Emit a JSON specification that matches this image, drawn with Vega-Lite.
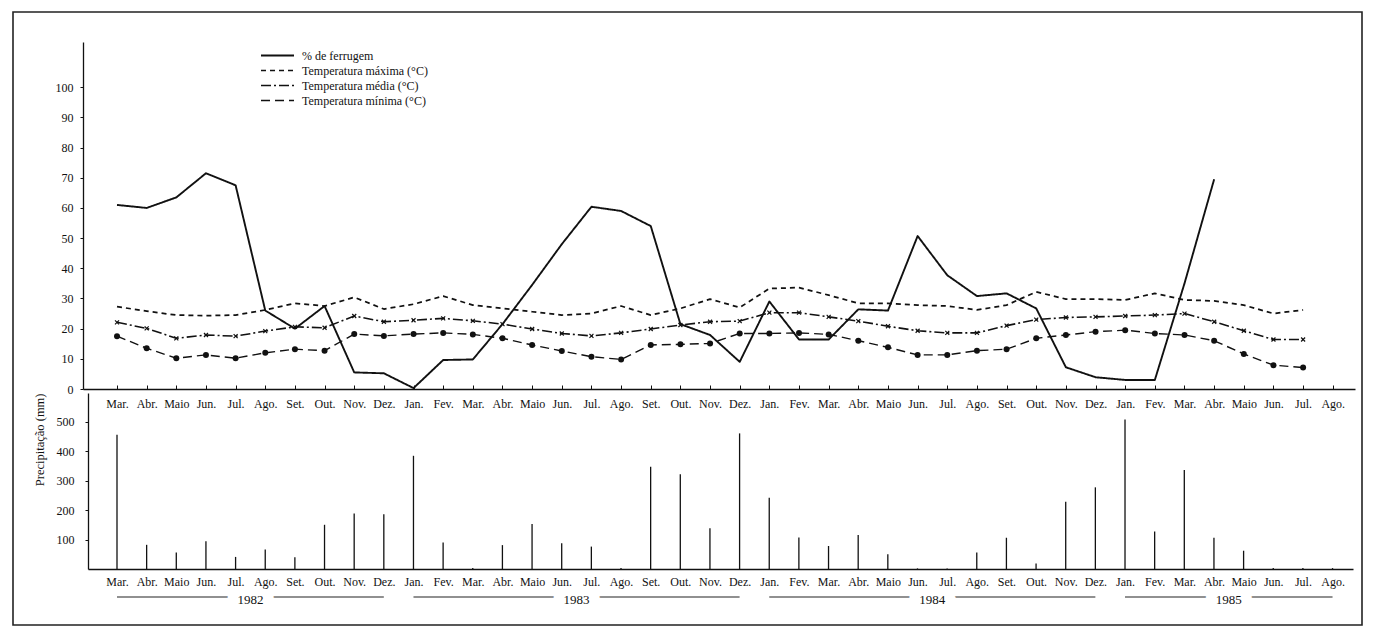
{
  "$schema": "https://vega.github.io/schema/vega-lite/v6.json",
  "width": 1349,
  "height": 613,
  "autosize": {"type": "none"},
  "padding": {"left": 13, "top": 12, "right": 18, "bottom": 3},
  "background": "white",
  "config": {
    "view": {"stroke": "#222", "strokeWidth": 1.6},
    "font": "Liberation Serif",
    "axis": {
      "labelFont": "Liberation Serif",
      "labelFontSize": 12,
      "labelColor": "#111",
      "domainColor": "#111",
      "domainWidth": 1.3,
      "tickColor": "#111",
      "grid": false,
      "titleFont": "Liberation Serif",
      "titleFontWeight": "normal",
      "titleFontSize": 12.5,
      "titleColor": "#111"
    },
    "legend": {
      "orient": "none",
      "legendX": 258,
      "legendY": 37,
      "padding": 0,
      "symbolType": "M-3,0L3,0",
      "symbolSize": 121,
      "symbolStrokeWidth": 1.5,
      "symbolStrokeColor": "#111",
      "labelFont": "Liberation Serif",
      "labelFontSize": 12,
      "labelColor": "#111",
      "labelOffset": 18,
      "rowPadding": 2
    }
  },
  "datasets": {
    "clima": [
      {"i": 0, "ferrugem": 61, "tmax": 27.3, "tmed": 22.1, "tmin": 17.5},
      {"i": 1, "ferrugem": 60, "tmax": 25.8, "tmed": 20.1, "tmin": 13.5},
      {"i": 2, "ferrugem": 63.5, "tmax": 24.5, "tmed": 16.8, "tmin": 10.2},
      {"i": 3, "ferrugem": 71.5, "tmax": 24.3, "tmed": 17.9, "tmin": 11.3},
      {"i": 4, "ferrugem": 67.5, "tmax": 24.5, "tmed": 17.5, "tmin": 10.2},
      {"i": 5, "ferrugem": 26, "tmax": 26.2, "tmed": 19.2, "tmin": 12},
      {"i": 6, "ferrugem": 20, "tmax": 28.4, "tmed": 20.6, "tmin": 13.2},
      {"i": 7, "ferrugem": 27.5, "tmax": 27.5, "tmed": 20.3, "tmin": 12.7},
      {"i": 8, "ferrugem": 5.5, "tmax": 30.4, "tmed": 24.2, "tmin": 18.2},
      {"i": 9, "ferrugem": 5.2, "tmax": 26.5, "tmed": 22.3, "tmin": 17.6},
      {"i": 10, "ferrugem": 0.3, "tmax": 28.1, "tmed": 22.8, "tmin": 18.2},
      {"i": 11, "ferrugem": 9.6, "tmax": 30.8, "tmed": 23.4, "tmin": 18.6},
      {"i": 12, "ferrugem": 9.8, "tmax": 27.8, "tmed": 22.6, "tmin": 18.1},
      {"i": 13, "ferrugem": 21.5, "tmax": 26.7, "tmed": 21.5, "tmin": 16.8},
      {"i": 14, "ferrugem": 34.5, "tmax": 25.6, "tmed": 19.9, "tmin": 14.6},
      {"i": 15, "ferrugem": 48, "tmax": 24.5, "tmed": 18.4, "tmin": 12.6},
      {"i": 16, "ferrugem": 60.4, "tmax": 25, "tmed": 17.6, "tmin": 10.7},
      {"i": 17, "ferrugem": 59, "tmax": 27.5, "tmed": 18.6, "tmin": 9.8},
      {"i": 18, "ferrugem": 54, "tmax": 24.5, "tmed": 19.9, "tmin": 14.6},
      {"i": 19, "ferrugem": 21.5, "tmax": 26.7, "tmed": 21.2, "tmin": 14.8},
      {"i": 20, "ferrugem": 17.9, "tmax": 29.8, "tmed": 22.3, "tmin": 15.1},
      {"i": 21, "ferrugem": 9, "tmax": 27, "tmed": 22.5, "tmin": 18.4},
      {"i": 22, "ferrugem": 29, "tmax": 33.3, "tmed": 25.3, "tmin": 18.4},
      {"i": 23, "ferrugem": 16.4, "tmax": 33.6, "tmed": 25.3, "tmin": 18.6},
      {"i": 24, "ferrugem": 16.4, "tmax": 31.1, "tmed": 23.9, "tmin": 18.1},
      {"i": 25, "ferrugem": 26.4, "tmax": 28.4, "tmed": 22.5, "tmin": 16},
      {"i": 26, "ferrugem": 26, "tmax": 28.4, "tmed": 20.8, "tmin": 13.8},
      {"i": 27, "ferrugem": 50.7, "tmax": 27.8, "tmed": 19.3, "tmin": 11.3},
      {"i": 28, "ferrugem": 37.7, "tmax": 27.5, "tmed": 18.6, "tmin": 11.3},
      {"i": 29, "ferrugem": 30.8, "tmax": 26.2, "tmed": 18.6, "tmin": 12.7},
      {"i": 30, "ferrugem": 31.7, "tmax": 27.8, "tmed": 21, "tmin": 13.2},
      {"i": 31, "ferrugem": 26.7, "tmax": 32.2, "tmed": 23, "tmin": 16.8},
      {"i": 32, "ferrugem": 7.2, "tmax": 29.8, "tmed": 23.7, "tmin": 17.9},
      {"i": 33, "ferrugem": 3.9, "tmax": 29.8, "tmed": 23.9, "tmin": 19},
      {"i": 34, "ferrugem": 3, "tmax": 29.5, "tmed": 24.2, "tmin": 19.5},
      {"i": 35, "ferrugem": 3, "tmax": 31.7, "tmed": 24.5, "tmin": 18.4},
      {"i": 36, "ferrugem": 35, "tmax": 29.5, "tmed": 25, "tmin": 17.9},
      {"i": 37, "ferrugem": 69.5, "tmax": 29.2, "tmed": 22.3, "tmin": 16},
      {"i": 38, "ferrugem": null, "tmax": 27.8, "tmed": 19.3, "tmin": 11.6},
      {"i": 39, "ferrugem": null, "tmax": 25, "tmed": 16.4, "tmin": 7.9},
      {"i": 40, "ferrugem": null, "tmax": 26.2, "tmed": 16.4, "tmin": 7.1}
    ],
    "chuva": [
      {"i": 0, "mm": 455}, {"i": 1, "mm": 82}, {"i": 2, "mm": 56}, {"i": 3, "mm": 94},
      {"i": 4, "mm": 41}, {"i": 5, "mm": 66}, {"i": 6, "mm": 40}, {"i": 7, "mm": 150},
      {"i": 8, "mm": 188}, {"i": 9, "mm": 186}, {"i": 10, "mm": 384}, {"i": 11, "mm": 90},
      {"i": 12, "mm": 3}, {"i": 13, "mm": 81}, {"i": 14, "mm": 153}, {"i": 15, "mm": 87},
      {"i": 16, "mm": 76}, {"i": 17, "mm": 3}, {"i": 18, "mm": 347}, {"i": 19, "mm": 321},
      {"i": 20, "mm": 138}, {"i": 21, "mm": 460}, {"i": 22, "mm": 242}, {"i": 23, "mm": 107},
      {"i": 24, "mm": 78}, {"i": 25, "mm": 115}, {"i": 26, "mm": 50}, {"i": 27, "mm": 2},
      {"i": 28, "mm": 2}, {"i": 29, "mm": 56}, {"i": 30, "mm": 106}, {"i": 31, "mm": 19},
      {"i": 32, "mm": 228}, {"i": 33, "mm": 277}, {"i": 34, "mm": 507}, {"i": 35, "mm": 127},
      {"i": 36, "mm": 336}, {"i": 37, "mm": 106}, {"i": 38, "mm": 62}, {"i": 39, "mm": 3},
      {"i": 40, "mm": 3}, {"i": 41, "mm": 3}
    ],
    "anos": [
      {"ano": "1982", "inicio": 0, "fim": 9},
      {"ano": "1983", "inicio": 10, "fim": 21},
      {"ano": "1984", "inicio": 22, "fim": 33},
      {"ano": "1985", "inicio": 34, "fim": 41}
    ]
  },
  "layer": [
    {
      "data": {"name": "clima"},
      "transform": [
        {"fold": ["ferrugem", "tmax", "tmed", "tmin"], "as": ["serie", "valor"]}
      ],
      "encoding": {
        "x": {
          "field": "i",
          "type": "quantitative",
          "scale": {"domain": [-1.147, 41.75], "range": [70, 1342], "nice": false, "zero": false},
          "axis": {
            "orient": "bottom",
            "offset": -236,
            "title": null,
            "values": [0,1,2,3,4,5,6,7,8,9,10,11,12,13,14,15,16,17,18,19,20,21,22,23,24,25,26,27,28,29,30,31,32,33,34,35,36,37,38,39,40,41],
            "labelExpr": "['Mar.','Abr.','Maio','Jun.','Jul.','Ago.','Set.','Out.','Nov.','Dez.','Jan.','Fev.'][datum.value % 12]",
            "tickSize": -4,
            "labelPadding": 13,
            "labelFlush": false,
            "labelOverlap": false
          }
        },
        "y": {
          "field": "valor",
          "type": "quantitative",
          "scale": {"domain": [0, 115], "range": [377, 30], "nice": false, "zero": false},
          "axis": {
            "orient": "left",
            "offset": -70,
            "title": null,
            "values": [0, 10, 20, 30, 40, 50, 60, 70, 80, 90, 100],
            "tickSize": 3,
            "labelPadding": 7
          }
        }
      },
      "layer": [
        {
          "mark": {"type": "line", "color": "#111", "strokeJoin": "round"},
          "encoding": {
            "strokeDash": {
              "field": "serie",
              "type": "nominal",
              "scale": {
                "domain": ["ferrugem", "tmax", "tmed", "tmin"],
                "range": [[1, 0], [5, 4], [10, 3, 2, 3], [9, 5]]
              },
              "legend": {
                "title": null,
                "labelExpr": "datum.label === 'ferrugem' ? '% de ferrugem' : datum.label === 'tmax' ? 'Temperatura máxima (°C)' : datum.label === 'tmed' ? 'Temperatura média (°C)' : 'Temperatura mínima (°C)'"
              }
            },
            "strokeWidth": {
              "field": "serie",
              "type": "nominal",
              "scale": {"domain": ["ferrugem", "tmax", "tmed", "tmin"], "range": [1.9, 1.4, 1.5, 1.5]},
              "legend": null
            }
          }
        },
        {
          "transform": [{"filter": "datum.serie === 'tmin'"}],
          "mark": {"type": "point", "filled": true, "size": 36, "color": "#111", "opacity": 1}
        },
        {
          "transform": [{"filter": "datum.serie === 'tmed'"}],
          "mark": {"type": "point", "shape": "M-1,-1L1,1M1,-1L-1,1", "size": 16, "filled": false, "strokeWidth": 1.2, "color": "#111", "opacity": 1}
        }
      ]
    },
    {
      "data": {"name": "chuva"},
      "mark": {"type": "rule", "color": "#111", "strokeWidth": 1.3},
      "encoding": {
        "x": {
          "field": "i",
          "type": "quantitative",
          "scale": {"domain": [-0.978, 41.69], "range": [75, 1340], "nice": false, "zero": false},
          "axis": {
            "orient": "bottom",
            "offset": -56,
            "title": null,
            "zindex": 1,
            "values": [0,1,2,3,4,5,6,7,8,9,10,11,12,13,14,15,16,17,18,19,20,21,22,23,24,25,26,27,28,29,30,31,32,33,34,35,36,37,38,39,40,41],
            "labelExpr": "['Mar.','Abr.','Maio','Jun.','Jul.','Ago.','Set.','Out.','Nov.','Dez.','Jan.','Fev.'][datum.value % 12]",
            "ticks": false,
            "labelPadding": 7,
            "labelFlush": false,
            "labelOverlap": false
          }
        },
        "y": {
          "field": "mm",
          "type": "quantitative",
          "scale": {"domain": [0, 597], "range": [557, 381], "nice": false, "zero": false},
          "axis": {
            "orient": "left",
            "offset": -75,
            "title": "Precipitação (mm)",
            "titleAnchor": "end",
            "titlePadding": 10,
            "values": [100, 200, 300, 400, 500],
            "tickSize": 3,
            "labelPadding": 11
          }
        },
        "y2": {"datum": 0}
      }
    },
    {
      "data": {"name": "anos"},
      "mark": {"type": "rule", "color": "#222", "strokeWidth": 1.2, "yOffset": 28},
      "encoding": {
        "x": {"field": "inicio", "type": "quantitative", "scale": {"domain": [-0.978, 41.69], "range": [75, 1340], "nice": false, "zero": false}, "axis": null},
        "x2": {"field": "fim"},
        "y": {"datum": 0, "type": "quantitative", "scale": {"domain": [0, 597], "range": [557, 381], "nice": false, "zero": false}, "axis": null}
      }
    },
    {
      "data": {"name": "anos"},
      "transform": [{"calculate": "(datum.inicio + datum.fim) / 2", "as": "meio"}],
      "mark": {"type": "text", "font": "Liberation Serif", "fontSize": 13, "baseline": "middle", "yOffset": 31, "color": "white", "stroke": "white", "strokeWidth": 22, "strokeJoin": "round"},
      "encoding": {
        "x": {"field": "meio", "type": "quantitative", "scale": {"domain": [-0.978, 41.69], "range": [75, 1340], "nice": false, "zero": false}, "axis": null},
        "y": {"datum": 0, "type": "quantitative", "scale": {"domain": [0, 597], "range": [557, 381], "nice": false, "zero": false}, "axis": null},
        "text": {"field": "ano"}
      }
    },
    {
      "data": {"name": "anos"},
      "transform": [{"calculate": "(datum.inicio + datum.fim) / 2", "as": "meio"}],
      "mark": {"type": "text", "font": "Liberation Serif", "fontSize": 13, "baseline": "middle", "yOffset": 31, "color": "#111"},
      "encoding": {
        "x": {"field": "meio", "type": "quantitative", "scale": {"domain": [-0.978, 41.69], "range": [75, 1340], "nice": false, "zero": false}, "axis": null},
        "y": {"datum": 0, "type": "quantitative", "scale": {"domain": [0, 597], "range": [557, 381], "nice": false, "zero": false}, "axis": null},
        "text": {"field": "ano"}
      }
    }
  ],
  "resolve": {
    "scale": {"x": "independent", "y": "independent"},
    "axis": {"x": "independent", "y": "independent"}
  }
}
